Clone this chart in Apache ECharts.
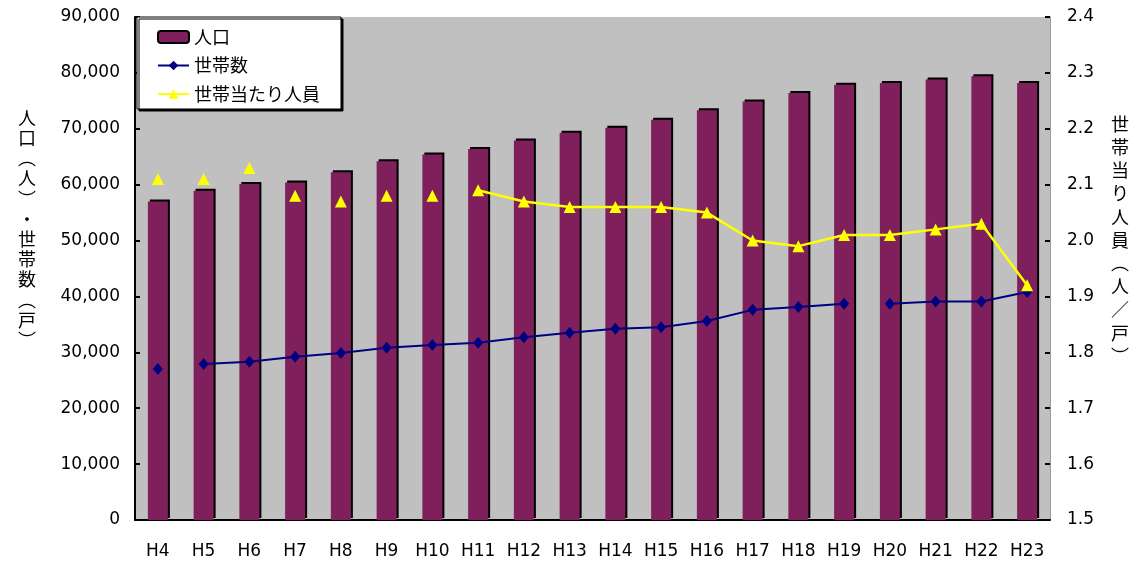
<!DOCTYPE html>
<html>
<head>
<meta charset="utf-8">
<script src="https://cdn.jsdelivr.net/npm/echarts@6/dist/echarts.min.js"></script>
<style>
  html, body { margin: 0; padding: 0; background: #fff; }
  #chart { width: 1135px; height: 565px; }
</style>
</head>
<body>
<div id="chart"></div>
<script>
// Fiscal years (Heisei)
const years = ['H4', 'H5', 'H6', 'H7', 'H8', 'H9', 'H10', 'H11', 'H12', 'H13',
               'H14', 'H15', 'H16', 'H17', 'H18', 'H19', 'H20', 'H21', 'H22', 'H23'];

// 人口 (people)
const population = [57000, 58900, 60100, 60400, 62200, 64200, 65400, 66400, 67900, 69300,
                    70200, 71600, 73300, 74900, 76400, 77900, 78200, 78800, 79400, 78200];

// 世帯数 (households)
const households = [27000, 27900, 28300, 29200, 29900, 30800, 31300, 31700, 32700, 33500,
                    34200, 34500, 35600, 37600, 38100, 38700, 38700, 39100, 39100, 40800];

// 世帯当たり人員 (people per household)
const perHousehold = [2.11, 2.11, 2.13, 2.08, 2.07, 2.08, 2.08, 2.09, 2.07, 2.06,
                      2.06, 2.06, 2.05, 2.00, 1.99, 2.01, 2.01, 2.02, 2.03, 1.92];

// Connected stretches of each line (inclusive index ranges) and stand-alone markers
const householdRuns = [[1, 15], [16, 19]];
const householdDots = [0];
const perHouseholdRuns = [[7, 19]];
const perHouseholdDots = [0, 1, 2, 3, 4, 5, 6];

const NUM_FONT = 'DejaVu Sans';
const JP_FONT = '"Noto Sans CJK JP", "Noto Sans CJK SC", sans-serif';

function pick(values, keep) {
  return values.map((v, i) => (keep(i) ? v : null));
}

function lineSeries(name, values, runs, dots, axis, color, symbol, symbolSize, width) {
  const out = [];
  runs.forEach(([a, b]) => {
    out.push({
      name, type: 'line', yAxisIndex: axis,
      data: pick(values, i => i >= a && i <= b),
      symbol, symbolSize, showSymbol: true, showAllSymbol: true,
      connectNulls: false,
      lineStyle: { color, width },
      itemStyle: { color },
      z: 5
    });
  });
  out.push({
    name, type: 'line', yAxisIndex: axis,
    data: pick(values, i => dots.indexOf(i) >= 0),
    symbol, symbolSize, showSymbol: true, showAllSymbol: true,
    lineStyle: { width: 0, opacity: 0 },
    itemStyle: { color },
    z: 5
  });
  return out;
}

const chart = echarts.init(document.getElementById('chart'), null, { renderer: 'canvas' });

chart.setOption({
  animation: false,
  backgroundColor: '#ffffff',
  grid: {
    left: 135, right: 85, top: 17, bottom: 45,
    show: true, backgroundColor: '#C0C0C0', borderWidth: 0
  },
  legend: {
    orient: 'vertical',
    left: 137, top: 17,
    padding: [10, 21, 5, 20],
    itemWidth: 31, itemHeight: 12, itemGap: 8.5,
    backgroundColor: '#ffffff',
    borderColor: '#000', borderWidth: 1,
    shadowColor: '#000', shadowBlur: 0, shadowOffsetX: 2, shadowOffsetY: 2,
    textStyle: { fontFamily: JP_FONT, fontSize: 18, color: '#000', lineHeight: 20 },
    data: [
      { name: '人口', icon: 'roundRect', itemStyle: { color: '#7F1F5B', borderColor: '#000', borderWidth: 2 } },
      { name: '世帯数' },
      { name: '世帯当たり人員' }
    ]
  },
  xAxis: {
    type: 'category',
    data: years,
    boundaryGap: true,
    axisLine: { lineStyle: { color: '#000', width: 2 } },
    axisTick: { inside: true, length: 5, lineStyle: { color: '#000', width: 2 } },
    axisLabel: { interval: 0, margin: 23, fontFamily: NUM_FONT, fontSize: 17, color: '#000' }
  },
  yAxis: [
    {
      type: 'value', position: 'left',
      min: 0, max: 90000, interval: 10000,
      axisLine: { show: true, lineStyle: { color: '#000', width: 2 } },
      axisTick: { show: true, inside: true, length: 5, lineStyle: { color: '#000', width: 2 } },
      splitLine: { show: false },
      axisLabel: {
        margin: 15, fontFamily: NUM_FONT, fontSize: 17, color: '#000',
        formatter: v => v.toLocaleString('en-US')
      }
    },
    {
      type: 'value', position: 'right',
      min: 1.5, max: 2.4, interval: 0.1,
      axisLine: { show: true, lineStyle: { color: '#9a9a9a', width: 1 } },
      axisTick: { show: true, inside: true, length: 5, lineStyle: { color: '#000', width: 2 } },
      splitLine: { show: false },
      axisLabel: {
        margin: 17, fontFamily: NUM_FONT, fontSize: 17, color: '#000',
        formatter: v => v.toFixed(1)
      }
    }
  ],
  graphic: [
    {
      type: 'text', x: 27, y: 229, z: 10,
      style: {
        text: '人\n口\n︵\n人\n︶\n・\n世\n帯\n数\n︵\n戸\n︶',
        fontFamily: JP_FONT, fontSize: 18, lineHeight: 20.2,
        fill: '#000', align: 'center', verticalAlign: 'middle'
      }
    },
    {
      type: 'text', x: 1120, y: 240, z: 10,
      style: {
        text: '世\n帯\n当\nり\n人\n員\n︵\n人\n／\n戸\n︶',
        fontFamily: JP_FONT, fontSize: 18, lineHeight: 23.2,
        fill: '#000', align: 'center', verticalAlign: 'middle'
      }
    }
  ],
  series: [
    {
      name: '人口', type: 'bar', yAxisIndex: 0,
      data: population,
      barWidth: 20,
      itemStyle: {
        color: '#7F1F5B',
        shadowColor: '#000', shadowBlur: 0, shadowOffsetX: 2, shadowOffsetY: -2
      },
      z: 2
    },
    ...lineSeries('世帯数', households, householdRuns, householdDots, 0,
                  '#000080', 'diamond', [10, 12], 2),
    ...lineSeries('世帯当たり人員', perHousehold, perHouseholdRuns, perHouseholdDots, 1,
                  '#FFFF00', 'triangle', 12, 2.5)
  ]
});
</script>
</body>
</html>
